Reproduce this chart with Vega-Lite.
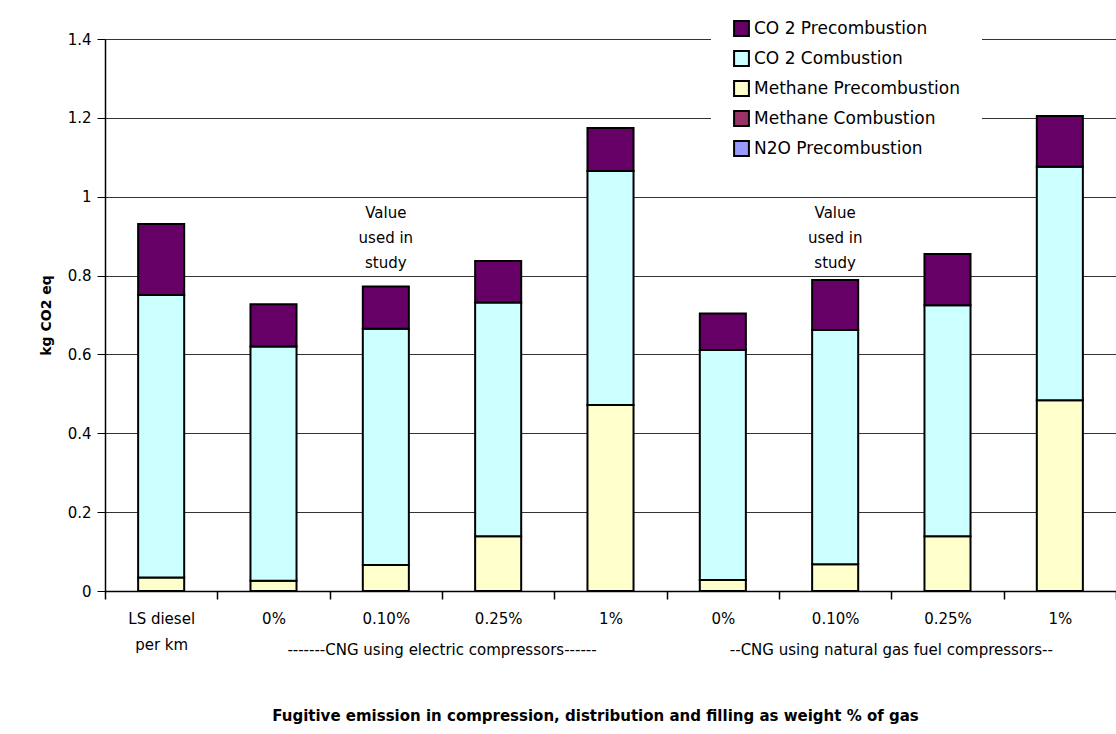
{
  "$schema": "https://vega.github.io/schema/vega-lite/v6.json",
  "width": 1011,
  "height": 552,
  "autosize": {"type": "none"},
  "padding": {"left": 105, "top": 39, "right": 0, "bottom": 143},
  "background": "white",
  "config": {
    "font": "DejaVu Sans",
    "view": {"stroke": null},
    "axis": {"labelFont": "DejaVu Sans", "labelColor": "#000", "titleColor": "#000", "titleFont": "DejaVu Sans"}
  },
  "layer": [
    {
      "data": {
        "values": [
          {"cat": "D", "series": "Methane Precombustion", "kg": 0.034},
          {"cat": "D", "series": "CO 2 Combustion", "kg": 0.717},
          {"cat": "D", "series": "CO 2 Precombustion", "kg": 0.180},
          {"cat": "E0", "series": "Methane Precombustion", "kg": 0.026},
          {"cat": "E0", "series": "CO 2 Combustion", "kg": 0.594},
          {"cat": "E0", "series": "CO 2 Precombustion", "kg": 0.107},
          {"cat": "E010", "series": "Methane Precombustion", "kg": 0.066},
          {"cat": "E010", "series": "CO 2 Combustion", "kg": 0.599},
          {"cat": "E010", "series": "CO 2 Precombustion", "kg": 0.107},
          {"cat": "E025", "series": "Methane Precombustion", "kg": 0.139},
          {"cat": "E025", "series": "CO 2 Combustion", "kg": 0.593},
          {"cat": "E025", "series": "CO 2 Precombustion", "kg": 0.105},
          {"cat": "E1", "series": "Methane Precombustion", "kg": 0.472},
          {"cat": "E1", "series": "CO 2 Combustion", "kg": 0.593},
          {"cat": "E1", "series": "CO 2 Precombustion", "kg": 0.109},
          {"cat": "N0", "series": "Methane Precombustion", "kg": 0.028},
          {"cat": "N0", "series": "CO 2 Combustion", "kg": 0.583},
          {"cat": "N0", "series": "CO 2 Precombustion", "kg": 0.093},
          {"cat": "N010", "series": "Methane Precombustion", "kg": 0.068},
          {"cat": "N010", "series": "CO 2 Combustion", "kg": 0.594},
          {"cat": "N010", "series": "CO 2 Precombustion", "kg": 0.127},
          {"cat": "N025", "series": "Methane Precombustion", "kg": 0.139},
          {"cat": "N025", "series": "CO 2 Combustion", "kg": 0.586},
          {"cat": "N025", "series": "CO 2 Precombustion", "kg": 0.130},
          {"cat": "N1", "series": "Methane Precombustion", "kg": 0.484},
          {"cat": "N1", "series": "CO 2 Combustion", "kg": 0.592},
          {"cat": "N1", "series": "CO 2 Precombustion", "kg": 0.129}
        ]
      },
      "transform": [
        {"calculate": "datum.series == 'Methane Precombustion' ? 0 : datum.series == 'CO 2 Combustion' ? 1 : 2", "as": "stackRank"}
      ],
      "mark": {"type": "bar", "width": {"band": 0.41}, "stroke": "#000", "strokeWidth": 2},
      "encoding": {
        "x": {
          "field": "cat",
          "type": "nominal",
          "sort": null,
          "scale": {"domain": ["D", "E0", "E010", "E025", "E1", "N0", "N010", "N025", "N1"], "paddingInner": 0, "paddingOuter": 0},
          "axis": {
            "title": "Fugitive emission in compression, distribution and filling as weight % of gas",
            "titleFont": "DejaVu Sans",
            "titleFontWeight": "bold",
            "titleFontSize": 15,
            "titlePadding": 56,
            "titleX": 490,
            "labelAngle": 0,
            "labelFontSize": 15,
            "labelPadding": 12,
            "labelLineHeight": 26,
            "labelExpr": "datum.value == 'D' ? ['LS diesel', 'per km'] : (datum.value == 'E0' || datum.value == 'N0') ? '0%' : (datum.value == 'E010' || datum.value == 'N010') ? '0.10%' : (datum.value == 'E025' || datum.value == 'N025') ? '0.25%' : (datum.value == 'E1' || datum.value == 'N1') ? '1%' : ''",
            "tickBand": "extent",
            "tickSize": 8,
            "tickColor": "#000",
            "tickWidth": 1.5,
            "domainColor": "#000",
            "domainWidth": 1.5,
            "grid": false
          }
        },
        "y": {
          "aggregate": "sum",
          "field": "kg",
          "type": "quantitative",
          "stack": "zero",
          "scale": {"domain": [0, 1.4], "nice": false},
          "axis": {
            "title": "kg CO2 eq",
            "titleFontWeight": "bold",
            "titleFontSize": 14,
            "titlePadding": 14,
            "values": [0, 0.2, 0.4, 0.6, 0.8, 1, 1.2, 1.4],
            "labelExpr": "datum.value == 0 ? '0' : datum.value == 1 ? '1' : format(datum.value, '.1f')",
            "labelFontSize": 15,
            "labelPadding": 6,
            "tickSize": 8,
            "tickColor": "#000",
            "domainColor": "#000",
            "domainWidth": 1.5,
            "grid": true,
            "gridColor": "#333",
            "gridWidth": 1
          }
        },
        "color": {
          "field": "series",
          "type": "nominal",
          "scale": {
            "domain": ["CO 2 Precombustion", "CO 2 Combustion", "Methane Precombustion", "Methane Combustion", "N2O Precombustion"],
            "range": ["#660066", "#CCFFFF", "#FFFFCC", "#993366", "#9999FF"]
          },
          "legend": {
            "title": null,
            "orient": "none",
            "legendX": 606,
            "legendY": -41,
            "padding": 22,
            "fillColor": "white",
            "labelFont": "DejaVu Sans",
            "labelFontSize": 17,
            "labelLimit": 0,
            "labelColor": "#000",
            "symbolType": "square",
            "symbolSize": 220,
            "symbolStrokeColor": "#000",
            "symbolStrokeWidth": 2,
            "symbolOpacity": 1,
            "rowPadding": 7,
            "labelOffset": 4
          }
        },
        "order": {"field": "stackRank", "type": "quantitative"}
      }
    },
    {
      "data": {
        "values": [
          {"cat": "E010", "note": ["Value", "used in", "study"]},
          {"cat": "N010", "note": ["Value", "used in", "study"]}
        ]
      },
      "mark": {"type": "text", "fontSize": 15, "lineHeight": 25, "baseline": "middle", "align": "center", "color": "#000", "font": "DejaVu Sans"},
      "encoding": {
        "x": {"field": "cat", "type": "nominal"},
        "y": {"datum": 0.958},
        "text": {"field": "note"}
      }
    },
    {
      "data": {
        "values": [
          {"cat": "E025", "group": "-------CNG using electric compressors------"},
          {"cat": "N025", "group": "--CNG using natural gas fuel compressors--"}
        ]
      },
      "mark": {"type": "text", "fontSize": 15, "baseline": "middle", "align": "center", "dy": 59, "color": "#000", "font": "DejaVu Sans"},
      "encoding": {
        "x": {"field": "cat", "type": "nominal", "bandPosition": 0},
        "y": {"datum": 0},
        "text": {"field": "group"}
      }
    }
  ]
}
